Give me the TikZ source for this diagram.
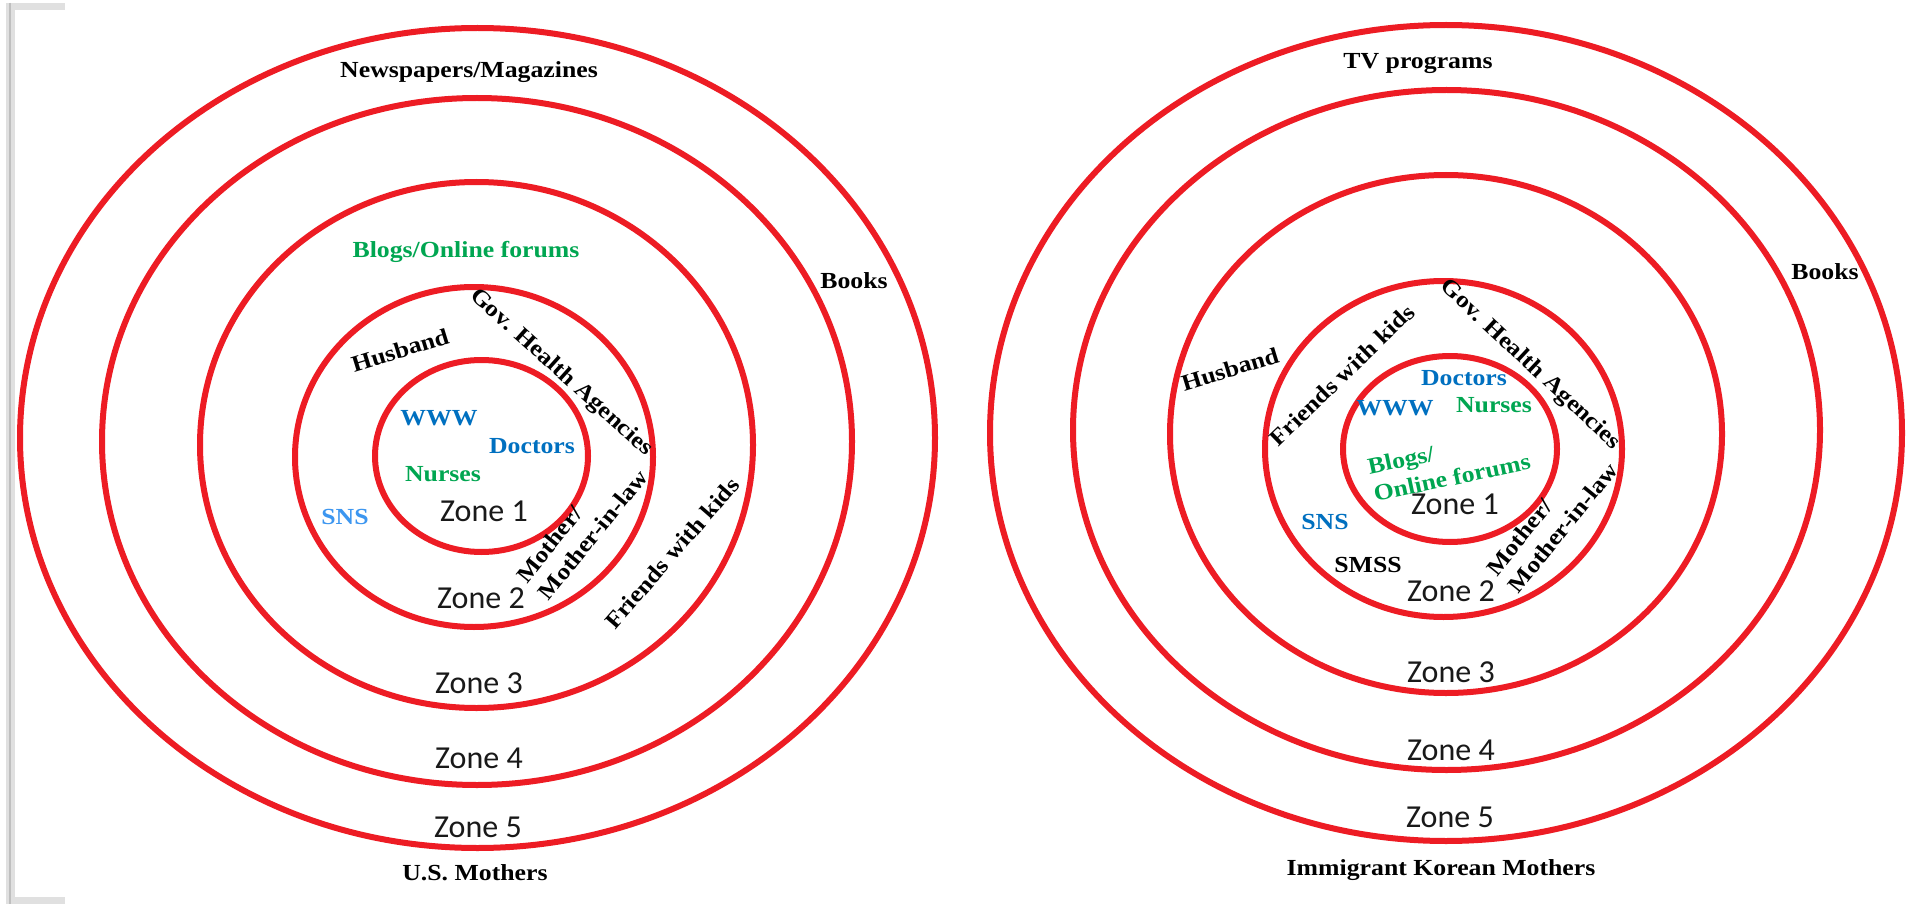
\documentclass[tikz,border=0pt]{standalone}
\usepackage{fontspec}
\newfontfamily\lblfont{Liberation Serif}[FakeStretch=1.12]
\newfontfamily\zonefont{Carlito}
\definecolor{ringred}{RGB}{237,28,36}
\definecolor{darkblue}{RGB}{0,112,192}
\definecolor{lightblue}{RGB}{60,150,240}
\definecolor{leafgreen}{RGB}{0,166,81}
\begin{document}
\begin{tikzpicture}[x=1pt,y=-1pt,
  ring/.style={draw=ringred, line width=6pt},
  lbl/.style={font=\lblfont\bfseries\fontsize{23}{28}\selectfont, inner sep=0pt, text=black, align=left},
  bluelbl/.style={lbl, text=darkblue},
  ltbluelbl/.style={lbl, text=lightblue},
  greenlbl/.style={lbl, text=leafgreen},
  zone/.style={font=\zonefont\fontsize{32}{36}\selectfont, inner sep=0pt, text=black!90}]
\useasboundingbox (0,0) rectangle (1917,904);
\fill[white] (0,0) rectangle (1917,904);

% page edge marker on the left
\fill[black!12] (6,3) rectangle (15,904);
\fill[black!12] (6,3) rectangle (65,10);
\fill[black!12] (6,897) rectangle (65,904);
\draw[black!25, line width=1.5pt] (10,3) -- (10,904);

% ---------- U.S. Mothers ----------
\draw[ring] (477.5,438) ellipse [x radius=457.5, y radius=410];
\draw[ring] (477,441.5) ellipse [x radius=375, y radius=343.5];
\draw[ring] (476.5,445) ellipse [x radius=276.5, y radius=263];
\draw[ring] (474,457) ellipse [x radius=179, y radius=170];
\draw[ring] (481.5,456) ellipse [x radius=106.5, y radius=96];

\node[lbl] (lnews) at (469,72) {Newspapers/Magazines};
\node[lbl] (lbooks) at (854,281) {Books};
\node[greenlbl] (lblogs) at (466,252) {Blogs/Online forums};
\node[lbl, rotate=17] (lhusband) at (400,350) {Husband};
\node[lbl, rotate=-42] (lgov) at (561,373) {Gov. Health Agencies};
\node[bluelbl] (lwww) at (439,418) {WWW};
\node[bluelbl] (ldoctors) at (532,446) {Doctors};
\node[greenlbl] (lnurses) at (443,474) {Nurses};
\node[ltbluelbl] (lsns) at (345,517) {SNS};
\node[lbl, rotate=51] (lmother) at (582,526) {Mother/\\Mother-in-law};
\node[lbl, rotate=49] (lfriends) at (672,553) {Friends with kids};
\node[zone] (lz1) at (484,511) {Zone 1};
\node[zone] (lz2) at (481,598) {Zone 2};
\node[zone] (lz3) at (479,683) {Zone 3};
\node[zone] (lz4) at (479,758) {Zone 4};
\node[zone] (lz5) at (478,827) {Zone 5};
\node[lbl] (ltitle) at (475,873) {U.S. Mothers};

% ---------- Immigrant Korean Mothers ----------
\draw[ring] (1446,433) ellipse [x radius=456, y radius=408];
\draw[ring] (1446.5,430) ellipse [x radius=373.5, y radius=340];
\draw[ring] (1446,434) ellipse [x radius=276, y radius=259];
\draw[ring] (1443.5,449) ellipse [x radius=178.5, y radius=168];
\draw[ring] (1450,449) ellipse [x radius=107, y radius=93];

\node[lbl] (rtv) at (1418,64) {TV programs};
\node[lbl] (rbooks) at (1825,272) {Books};
\node[lbl, rotate=17] (rhusband) at (1230,369) {Husband};
\node[lbl, rotate=44] (rfriends) at (1342,375) {Friends with kids};
\node[lbl, rotate=-43] (rgov) at (1530,365) {Gov. Health Agencies};
\node[bluelbl] (rdoctors) at (1464,378) {Doctors};
\node[bluelbl] (rwww) at (1395,408) {WWW};
\node[greenlbl] (rnurses) at (1494,405) {Nurses};
\node[greenlbl, rotate=12] (rblogs) at (1449,464) {Blogs/\\Online forums};
\node[bluelbl] (rsns) at (1325,522) {SNS};
\node[lbl] (rsmss) at (1368,565) {SMSS};
\node[lbl, rotate=51] (rmother) at (1552,519) {Mother/\\Mother-in-law};
\node[zone] (rz1) at (1455,504) {Zone 1};
\node[zone] (rz2) at (1451,591) {Zone 2};
\node[zone] (rz3) at (1451,672) {Zone 3};
\node[zone] (rz4) at (1451,750) {Zone 4};
\node[zone] (rz5) at (1450,817) {Zone 5};
\node[lbl] (rtitle) at (1441,870) {Immigrant Korean Mothers};
\end{tikzpicture}
\end{document}
